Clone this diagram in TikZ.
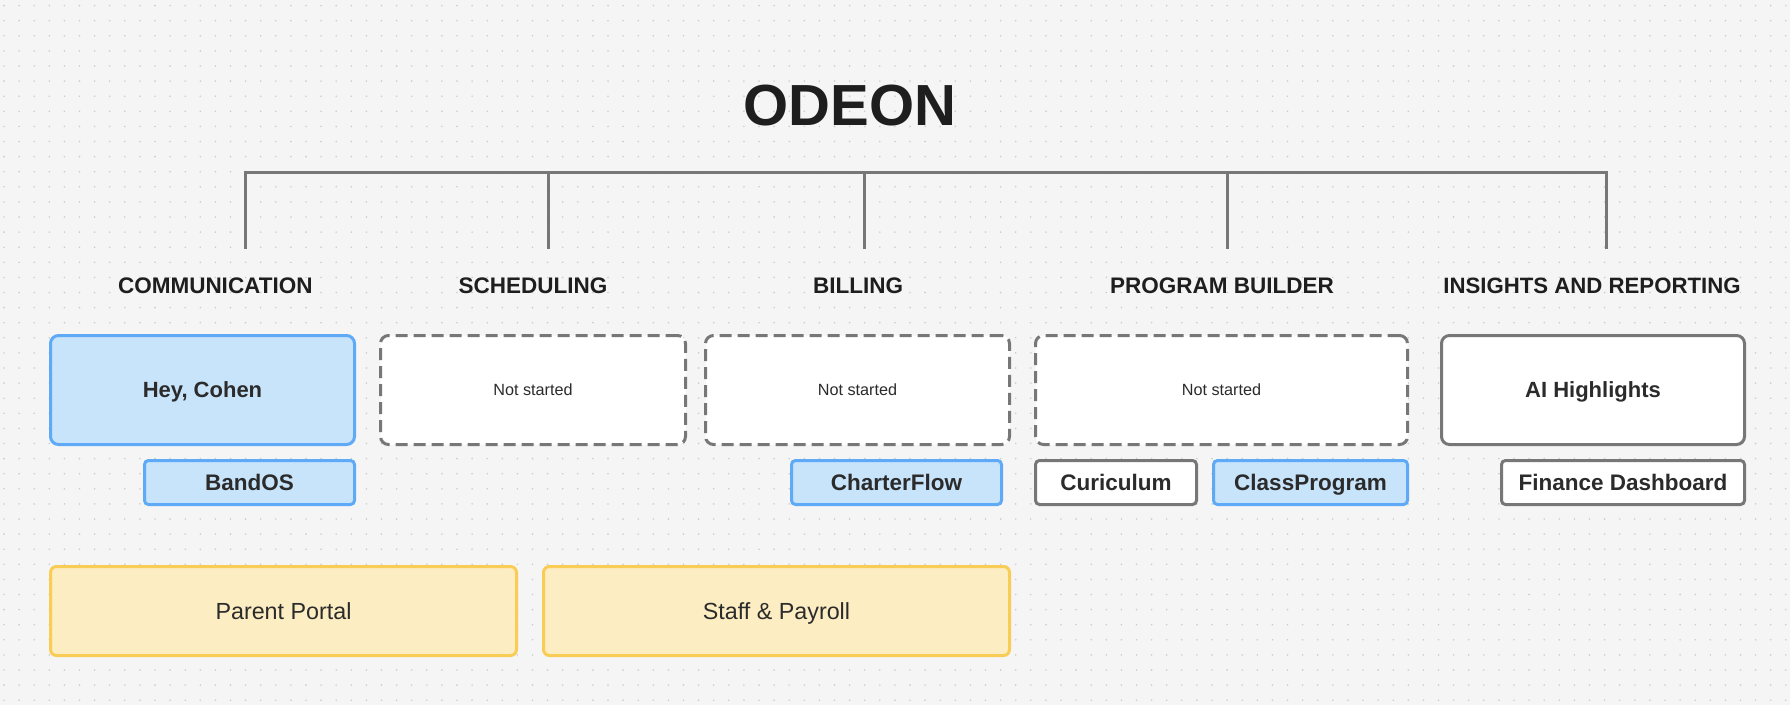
\documentclass[tikz,border=0pt]{standalone}
\usepackage{fontspec}
\setmainfont{Liberation Sans}
\definecolor{bgc}{HTML}{F5F5F5}
\definecolor{dotc}{HTML}{CDCDCD}
\definecolor{linec}{HTML}{777777}
\definecolor{txt}{HTML}{1E1E1E}
\definecolor{txtb}{HTML}{2B2B2B}
\definecolor{bluefill}{HTML}{C8E4FB}
\definecolor{blueline}{HTML}{5EAAF6}
\definecolor{yelfill}{HTML}{FCEDC2}
\definecolor{yelline}{HTML}{F8CC55}
\tikzset{
  catlabel/.style={text=txt, font=\fontsize{22.5}{27}\selectfont\bfseries, inner sep=0pt, text height=16.1pt, text depth=0pt},
  boxbase/.style={rectangle, line width=3pt, inner sep=0pt, text=txtb, text depth=0pt},
  mainblue/.style={boxbase, draw=blueline, fill=bluefill, rounded corners=8pt, font=\fontsize{22}{26}\selectfont\bfseries, text height=15.75pt},
  mainwhite/.style={boxbase, draw=linec, fill=white, rounded corners=8pt, font=\fontsize{22}{26}\selectfont\bfseries, text height=15.75pt},
  maindash/.style={boxbase, draw=linec, fill=white, rounded corners=8pt, dash pattern=on 12pt off 6pt, font=\fontsize{16.2}{20}\selectfont, text height=11.6pt},
  smallblue/.style={boxbase, draw=blueline, fill=bluefill, rounded corners=4pt, font=\fontsize{22.5}{27}\selectfont\bfseries, text height=16.1pt},
  smallwhite/.style={boxbase, draw=linec, fill=white, rounded corners=4pt, font=\fontsize{22.5}{27}\selectfont\bfseries, text height=16.1pt},
  yelbox/.style={boxbase, draw=yelline, fill=yelfill, rounded corners=6pt, font=\fontsize{23.3}{28}\selectfont, text height=16.7pt},
  bracket/.style={draw=linec, line width=3pt},
}
\begin{document}
\begin{tikzpicture}[x=1pt,y=-1pt]
\useasboundingbox (0,0) rectangle (1790,705);
\fill[bgc] (0,0) rectangle (1790,705);
\foreach \i in {0,...,118}{
  \foreach \j in {0,...,46}{
    \fill[dotc] ({4+15.1*\i},{5.6+15.1*\j}) circle (0.9pt);
  }
}
% title
\node[text=txt, font=\fontsize{58}{68}\selectfont\bfseries, inner sep=0pt, text height=41.5pt, text depth=0pt] (title) at (850,105) {ODEON};
% bracket
\coordinate (t1) at (245.4,172.7);
\coordinate (t2) at (548,172.7);
\coordinate (t3) at (864,172.7);
\coordinate (t4) at (1227,172.7);
\coordinate (t5) at (1606,172.7);
\coordinate (e1) at (245.4,249);
\coordinate (e2) at (548,249);
\coordinate (e3) at (864,249);
\coordinate (e4) at (1227,249);
\coordinate (e5) at (1606,249);
\draw[bracket] (e1) -- (t1) -- (t5) -- (e5);
\draw[bracket] (t2) -- (e2);
\draw[bracket] (t3) -- (e3);
\draw[bracket] (t4) -- (e4);
% category labels
\node[catlabel] (c1) at (215.3,285.7) {COMMUNICATION};
\node[catlabel] (c2) at (533,285.7) {SCHEDULING};
\node[catlabel] (c3) at (858,285.7) {BILLING};
\node[catlabel] (c4) at (1222,285.7) {PROGRAM BUILDER};
\node[catlabel, font=\fontsize{22.2}{27}\selectfont\bfseries] (c5) at (1592,285.7) {INSIGHTS AND REPORTING};
% main row
\node[mainblue, minimum width=304pt, minimum height=109pt] (hey) at (202.5,390) {Hey, Cohen};
\node[maindash, minimum width=305pt, minimum height=109pt] (sched) at (533,390) {Not started};
\node[maindash, minimum width=304pt, minimum height=109pt] (bill) at (857.5,390) {Not started};
\node[maindash, minimum width=372pt, minimum height=109pt] (prog) at (1221.5,390) {Not started};
\node[mainwhite, minimum width=303pt, minimum height=109pt] (ai) at (1593,390) {AI Highlights};
% small row
\node[smallblue, minimum width=210pt, minimum height=44pt] (bandos) at (249.5,482.5) {BandOS};
\node[smallblue, minimum width=210pt, minimum height=44pt] (charter) at (896.5,482.5) {CharterFlow};
\node[smallwhite, minimum width=161pt, minimum height=44pt] (curic) at (1116,482.5) {Curiculum};
\node[smallblue, minimum width=194pt, minimum height=44pt] (classp) at (1310.5,482.5) {ClassProgram};
\node[smallwhite, minimum width=243pt, minimum height=44pt] (finance) at (1623,482.5) {Finance Dashboard};
% yellow row
\node[yelbox, minimum width=466pt, minimum height=89pt] (parent) at (283.5,611) {Parent Portal};
\node[yelbox, minimum width=466pt, minimum height=89pt] (staff) at (776.5,611) {Staff \& Payroll};
\end{tikzpicture}
\end{document}
